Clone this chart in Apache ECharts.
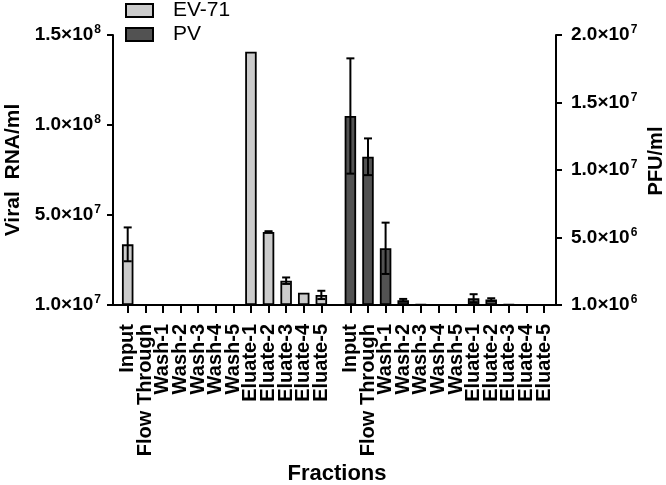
<!DOCTYPE html>
<html>
<head>
<meta charset="utf-8">
<script src="https://cdn.jsdelivr.net/npm/echarts@6/dist/echarts.min.js"></script>
<style>
html,body{margin:0;padding:0;background:#fff;}
#c{width:666px;height:485px;}
</style>
</head>
<body>
<div id="c"></div>
<script>
// ---- data ----
const categories = ['Input','Flow Through','Wash-1','Wash-2','Wash-3','Wash-4','Wash-5','Eluate-1','Eluate-2','Eluate-3','Eluate-4','Eluate-5'];
const seriesNames = ['EV-71','PV'];
const ev71Values = [3.37e7, 2e5, 2e5, 2e5, 2e5, 2e5, 2e5, 1.407e8, 4.06e7, 1.35e7, 6.8e6, 5.6e6];
const ev71Sd     = [9.4e6, 0, 0, 0, 0, 0, 0, 0, 4e5, 1.8e6, 0, 2.3e6];
const pvValues   = [1.40e7, 1.098e7, 4.2e6, 3.5e5, 5e4, 2e4, 2e4, 5e5, 4e5, 5e4, 2e4, 2e4];
const pvSd       = [4.27e6, 1.36e6, 1.9e6, 1e5, 0, 0, 0, 3e5, 1e5, 0, 0, 0];
const leftTickLabels  = [['1.0','7'],['5.0','7'],['1.0','8'],['1.5','8']];
const rightTickLabels = [['1.0','6'],['5.0','6'],['1.0','7'],['1.5','7'],['2.0','7']];
const leftAxisTitle = 'Viral  RNA/ml';
const rightAxisTitle = 'PFU/ml';
const xAxisTitle = 'Fractions';

// ---- layout helpers ----
const FONT = '"Liberation Sans", Arial, sans-serif';
const GROUP_GAP = 0.65;
const X_MIN = -0.835, X_MAX = 24.33;
const n = categories.length;
const xPos = i => (i < n ? i : i + GROUP_GAP);
const allLabels = categories.concat(categories);
const positions = allLabels.map((_, i) => xPos(i));
// padding label slots at the axis ends (hidden) so real labels are never treated as min/max labels
const labelPositions = [X_MIN].concat(positions, [X_MAX]);
function labelFor(v) {
  for (let i = 0; i < positions.length; i++) if (Math.abs(positions[i] - v) < 1e-3) return allLabels[i];
  return '';
}
const evBars = ev71Values.map((v, i) => [xPos(i), v]);
const pvBars = pvValues.map((v, i) => [xPos(i + n), v]);
const evErr = ev71Values.map((v, i) => [xPos(i), v, ev71Sd[i]]);
const pvErr = pvValues.map((v, i) => [xPos(i + n), v, pvSd[i]]);

function errRender(params, api) {
  const x = api.value(0), y = api.value(1), sd = api.value(2);
  if (!(sd > 0)) return null;
  const top = api.coord([x, y + sd]);
  const bot = api.coord([x, Math.max(y - sd, 0)]);
  const hw = 4;
  const st = { stroke: '#000', lineWidth: 2 };
  return {
    type: 'group',
    children: [
      { type: 'line', shape: { x1: top[0], y1: top[1], x2: bot[0], y2: bot[1] }, style: st },
      { type: 'line', shape: { x1: top[0] - hw, y1: top[1], x2: top[0] + hw, y2: top[1] }, style: st },
      { type: 'line', shape: { x1: bot[0] - hw, y1: bot[1], x2: bot[0] + hw, y2: bot[1] }, style: st }
    ]
  };
}

const tickRich = {
  a: { fontSize: 19, fontWeight: 'bold', fontFamily: FONT, color: '#000' },
  b: { fontSize: 12, fontWeight: 'bold', fontFamily: FONT, color: '#000', padding: [0, 0, 10, 1] }
};

const chart = echarts.init(document.getElementById('c'), null, { renderer: 'canvas' });
chart.setOption({
  animation: false,
  backgroundColor: '#fff',
  legend: {
    data: seriesNames,
    orient: 'vertical',
    left: 125,
    top: 0,
    padding: 0,
    itemWidth: 27,
    itemHeight: 13,
    itemGap: 3,
    icon: 'rect',
    itemStyle: { borderColor: '#000', borderWidth: 2 },
    textStyle: { fontSize: 21, fontFamily: FONT, color: '#000', padding: [0, 0, 0, 15] }
  },
  grid: { left: 113, right: 110, top: 35, bottom: 180, containLabel: false, outerBoundsMode: 'none' },
  xAxis: {
    type: 'value',
    min: X_MIN,
    max: X_MAX,
    splitLine: { show: false },
    axisLine: { lineStyle: { color: '#000', width: 2 } },
    axisTick: { customValues: positions, length: 8, lineStyle: { color: '#000', width: 2 } },
    axisLabel: {
      customValues: labelPositions,
      rotate: 90,
      margin: 19,
      showMinLabel: false,
      showMaxLabel: false,
      hideOverlap: false,
      lineHeight: 15,
      formatter: v => labelFor(v),
      fontSize: 20, fontWeight: 'bold', fontFamily: FONT, color: '#000'
    }
  },
  yAxis: [
    {
      type: 'value', min: 0, max: 1.5e8, interval: 5e7,
      splitLine: { show: false },
      axisLine: { show: true, onZero: false, lineStyle: { color: '#000', width: 2 } },
      axisTick: { show: true, length: 6, lineStyle: { color: '#000', width: 2 } },
      axisLabel: {
        margin: 12,
        formatter: (v, idx) => { const t = leftTickLabels[idx]; return t ? '{a|' + t[0] + '×10}{b|' + t[1] + '}' : ''; },
        rich: tickRich
      }
    },
    {
      type: 'value', min: 0, max: 2e7, interval: 5e6, position: 'right',
      splitLine: { show: false },
      axisLine: { show: true, onZero: false, lineStyle: { color: '#000', width: 2 } },
      axisTick: { show: true, length: 6, lineStyle: { color: '#000', width: 2 } },
      axisLabel: {
        margin: 15,
        formatter: (v, idx) => { const t = rightTickLabels[idx]; return t ? '{a|' + t[0] + '×10}{b|' + t[1] + '}' : ''; },
        rich: tickRich
      }
    }
  ],
  series: [
    {
      name: seriesNames[0], type: 'bar', xAxisIndex: 0, yAxisIndex: 0,
      data: evBars, barWidth: 11.5, barGap: '-100%',
      itemStyle: { color: '#cbcbcb', borderColor: '#000', borderWidth: 1.8 }
    },
    {
      name: seriesNames[1], type: 'bar', xAxisIndex: 0, yAxisIndex: 1,
      data: pvBars, barWidth: 11.5, barGap: '-100%',
      itemStyle: { color: '#525252', borderColor: '#000', borderWidth: 1.8 }
    },
    {
      type: 'custom', xAxisIndex: 0, yAxisIndex: 0, data: evErr, renderItem: errRender,
      encode: { x: 0, y: 1 }, z: 10, silent: true
    },
    {
      type: 'custom', xAxisIndex: 0, yAxisIndex: 1, data: pvErr, renderItem: errRender,
      encode: { x: 0, y: 1 }, z: 10, silent: true
    }
  ],
  graphic: [
    { type: 'text', x: 13, y: 170, rotation: Math.PI / 2,
      style: { text: leftAxisTitle, font: 'bold 21px ' + FONT, fill: '#000', textAlign: 'center', textVerticalAlign: 'middle' } },
    { type: 'text', x: 656, y: 161, rotation: Math.PI / 2,
      style: { text: rightAxisTitle, font: 'bold 20px ' + FONT, fill: '#000', textAlign: 'center', textVerticalAlign: 'middle' } },
    { type: 'text', x: 337, y: 474,
      style: { text: xAxisTitle, font: 'bold 22px ' + FONT, fill: '#000', textAlign: 'center', textVerticalAlign: 'middle' } }
  ]
});
</script>
</body>
</html>
